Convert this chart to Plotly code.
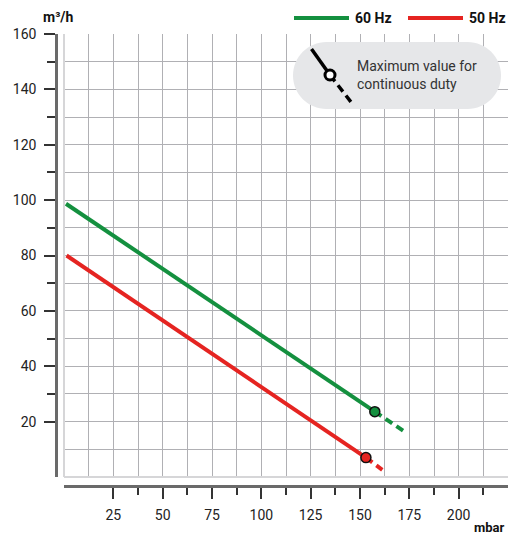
import plotly.graph_objects as go

# ---- data ----
pressure_60_solid = [1, 157.5]
flow_60_solid = [98.7, 23.6]
pressure_60_dash = [157.5, 173]
flow_60_dash = [23.6, 16.2]

pressure_50_solid = [1.3, 153]
flow_50_solid = [80, 7.0]
pressure_50_dash = [153, 161.3]
flow_50_dash = [7.0, 2.6]

x_major_ticks = [25, 50, 75, 100, 125, 150, 175, 200]
x_minor_ticks = [37.5, 62.5, 87.5, 112.5, 137.5, 162.5, 187.5, 212.5]
y_major_ticks = [20, 40, 60, 80, 100, 120, 140, 160]
y_minor_ticks = [30, 50, 70, 90, 110, 130, 150]

GREEN = "#14903f"
RED = "#e52421"
FONT = "Roboto"

W, H = 511, 534
ML, MR, MT, MB = 56, 3, 34, 48
PW = W - ML - MR
PH = H - MT - MB


def PX(px):
    return (px - ML) / PW


def PY(py):
    return (H - MB - py) / PH


fig = go.Figure()

fig.add_trace(go.Scatter(x=pressure_60_solid, y=flow_60_solid, mode="lines",
                         line=dict(color=GREEN, width=4), showlegend=False, hoverinfo="skip"))
fig.add_trace(go.Scatter(x=pressure_60_dash, y=flow_60_dash, mode="lines",
                         line=dict(color=GREEN, width=4, dash="8px,5px"), showlegend=False, hoverinfo="skip"))
fig.add_trace(go.Scatter(x=pressure_50_solid, y=flow_50_solid, mode="lines",
                         line=dict(color=RED, width=4), showlegend=False, hoverinfo="skip"))
fig.add_trace(go.Scatter(x=pressure_50_dash, y=flow_50_dash, mode="lines",
                         line=dict(color=RED, width=4, dash="8px,5px"), showlegend=False, hoverinfo="skip"))
fig.add_trace(go.Scatter(x=[pressure_60_solid[-1]], y=[flow_60_solid[-1]], mode="markers",
                         marker=dict(color=GREEN, size=10, line=dict(color="#111", width=1.5)),
                         showlegend=False))
fig.add_trace(go.Scatter(x=[pressure_50_solid[-1]], y=[flow_50_solid[-1]], mode="markers",
                         marker=dict(color=RED, size=10, line=dict(color="#111", width=1.5)),
                         showlegend=False))
# anchor trace for the offset axes
fig.add_trace(go.Scatter(x=[None], y=[None], xaxis="x2", yaxis="y2", showlegend=False))

grid = "#b0b0b4"
fig.update_layout(
    width=W, height=H,
    margin=dict(l=ML, r=MR, t=MT, b=MB, autoexpand=False),
    paper_bgcolor="white", plot_bgcolor="white",
    font=dict(family=FONT, size=14, color="#222"),
    xaxis=dict(domain=[8 / PW, 1], range=[0, 225], tick0=0, dtick=12.5,
               showgrid=True, gridcolor=grid, gridwidth=1.3,
               zeroline=True, zerolinecolor="#d6d6d8", zerolinewidth=2,
               showticklabels=False, ticks="", showline=False, fixedrange=True,
               automargin=False),
    yaxis=dict(domain=[9 / PH, 1], range=[0, 160], tick0=0, dtick=10,
               showgrid=True, gridcolor=grid, gridwidth=1.3,
               zeroline=True, zerolinecolor="#d6d6d8", zerolinewidth=2,
               showticklabels=False, ticks="", showline=False, fixedrange=True,
               automargin=False),
    xaxis2=dict(overlaying="x", anchor="free", position=0, range=[0, 225],
                tickmode="array", tickvals=x_major_ticks, ticktext=[str(v) for v in x_major_ticks],
                ticks="outside", ticklen=11, tickwidth=1.5, tickcolor="#333",
                minor=dict(tickmode="array", tickvals=x_minor_ticks, ticks="outside",
                           ticklen=7, tickwidth=1.5, tickcolor="#333", showgrid=False),
                showline=True, linecolor="#6a6a6a", linewidth=2.5, fixedrange=True,
                showgrid=False, zeroline=False, ticklabelstandoff=4, automargin=False,
                tickfont=dict(family=FONT, size=14, color="#222")),
    yaxis2=dict(overlaying="y", anchor="free", position=0, side="left", range=[0, 160],
                tickmode="array", tickvals=y_major_ticks, ticktext=[str(v) for v in y_major_ticks],
                ticks="outside", ticklen=11, tickwidth=1.5, tickcolor="#333",
                minor=dict(tickmode="array", tickvals=y_minor_ticks, ticks="outside",
                           ticklen=8, tickwidth=1.5, tickcolor="#333", showgrid=False),
                showline=True, linecolor="#6a6a6a", linewidth=2.5, fixedrange=True,
                showgrid=False, zeroline=False, ticklabelstandoff=5, automargin=False,
                tickfont=dict(family=FONT, size=14, color="#222")),
)

shapes = []
# callout pill
x0, x1, y0, y1 = 293, 501, 42, 109
r = (y1 - y0) / 2
k = 0.5523 * r


def P(px, py):
    return f"{PX(px):.5f},{PY(py):.5f}"


path = (f"M {P(x0 + r, y0)} L {P(x1 - r, y0)} "
        f"C {P(x1 - r + k, y0)} {P(x1, y0 + r - k)} {P(x1, y0 + r)} "
        f"C {P(x1, y0 + r + k)} {P(x1 - r + k, y1)} {P(x1 - r, y1)} "
        f"L {P(x0 + r, y1)} "
        f"C {P(x0 + r - k, y1)} {P(x0, y1 - r + k)} {P(x0, y1 - r)} "
        f"C {P(x0, y1 - r - k)} {P(x0 + r - k, y0)} {P(x0 + r, y0)} Z")
shapes.append(dict(type="path", xref="paper", yref="paper", path=path,
                   fillcolor="#e6e7e9", line=dict(width=0)))
# icon
cx, cy = 330, 75
shapes.append(dict(type="line", xref="paper", yref="paper",
                   x0=PX(311.5), y0=PY(49), x1=PX(cx), y1=PY(cy),
                   line=dict(color="black", width=3.5)))
shapes.append(dict(type="line", xref="paper", yref="paper",
                   x0=PX(cx), y0=PY(cy), x1=PX(351), y1=PY(102),
                   line=dict(color="black", width=3.5, dash="8px,5px")))
cr = 5
shapes.append(dict(type="circle", xref="paper", yref="paper",
                   x0=PX(cx - cr), x1=PX(cx + cr), y0=PY(cy + cr), y1=PY(cy - cr),
                   fillcolor="white", line=dict(color="black", width=3)))
# legend lines
shapes.append(dict(type="line", xref="paper", yref="paper",
                   x0=PX(294), x1=PX(349), y0=PY(18), y1=PY(18),
                   line=dict(color=GREEN, width=4)))
shapes.append(dict(type="line", xref="paper", yref="paper",
                   x0=PX(408), x1=PX(463), y0=PY(18), y1=PY(18),
                   line=dict(color=RED, width=4)))

annotations = [
    dict(text="Maximum value for<br>continuous duty", xref="paper", yref="paper",
         x=PX(355), y=PY(75), xanchor="left", yanchor="middle", align="left",
         showarrow=False, font=dict(family=FONT, size=14, color="#333")),
    dict(text="<b>60 Hz</b>", xref="paper", yref="paper", x=PX(353), y=PY(18),
         xanchor="left", yanchor="middle", showarrow=False,
         font=dict(family=FONT, size=14, color="#111")),
    dict(text="<b>50 Hz</b>", xref="paper", yref="paper", x=PX(467), y=PY(18),
         xanchor="left", yanchor="middle", showarrow=False,
         font=dict(family=FONT, size=14, color="#111")),
    dict(text="<b>m³/h</b>", xref="paper", yref="paper", x=PX(41), y=PY(17),
         xanchor="left", yanchor="middle", showarrow=False,
         font=dict(family=FONT, size=14, color="#111")),
    dict(text="<b>mbar</b>", xref="paper", yref="paper", x=PX(507), y=PY(527),
         xanchor="right", yanchor="middle", showarrow=False,
         font=dict(family=FONT, size=13, color="#111")),
]

fig.update_layout(shapes=shapes, annotations=annotations)
fig.write_html("out.html", config={"displayModeBar": False},
               post_script="document.body.style.margin='0';")
